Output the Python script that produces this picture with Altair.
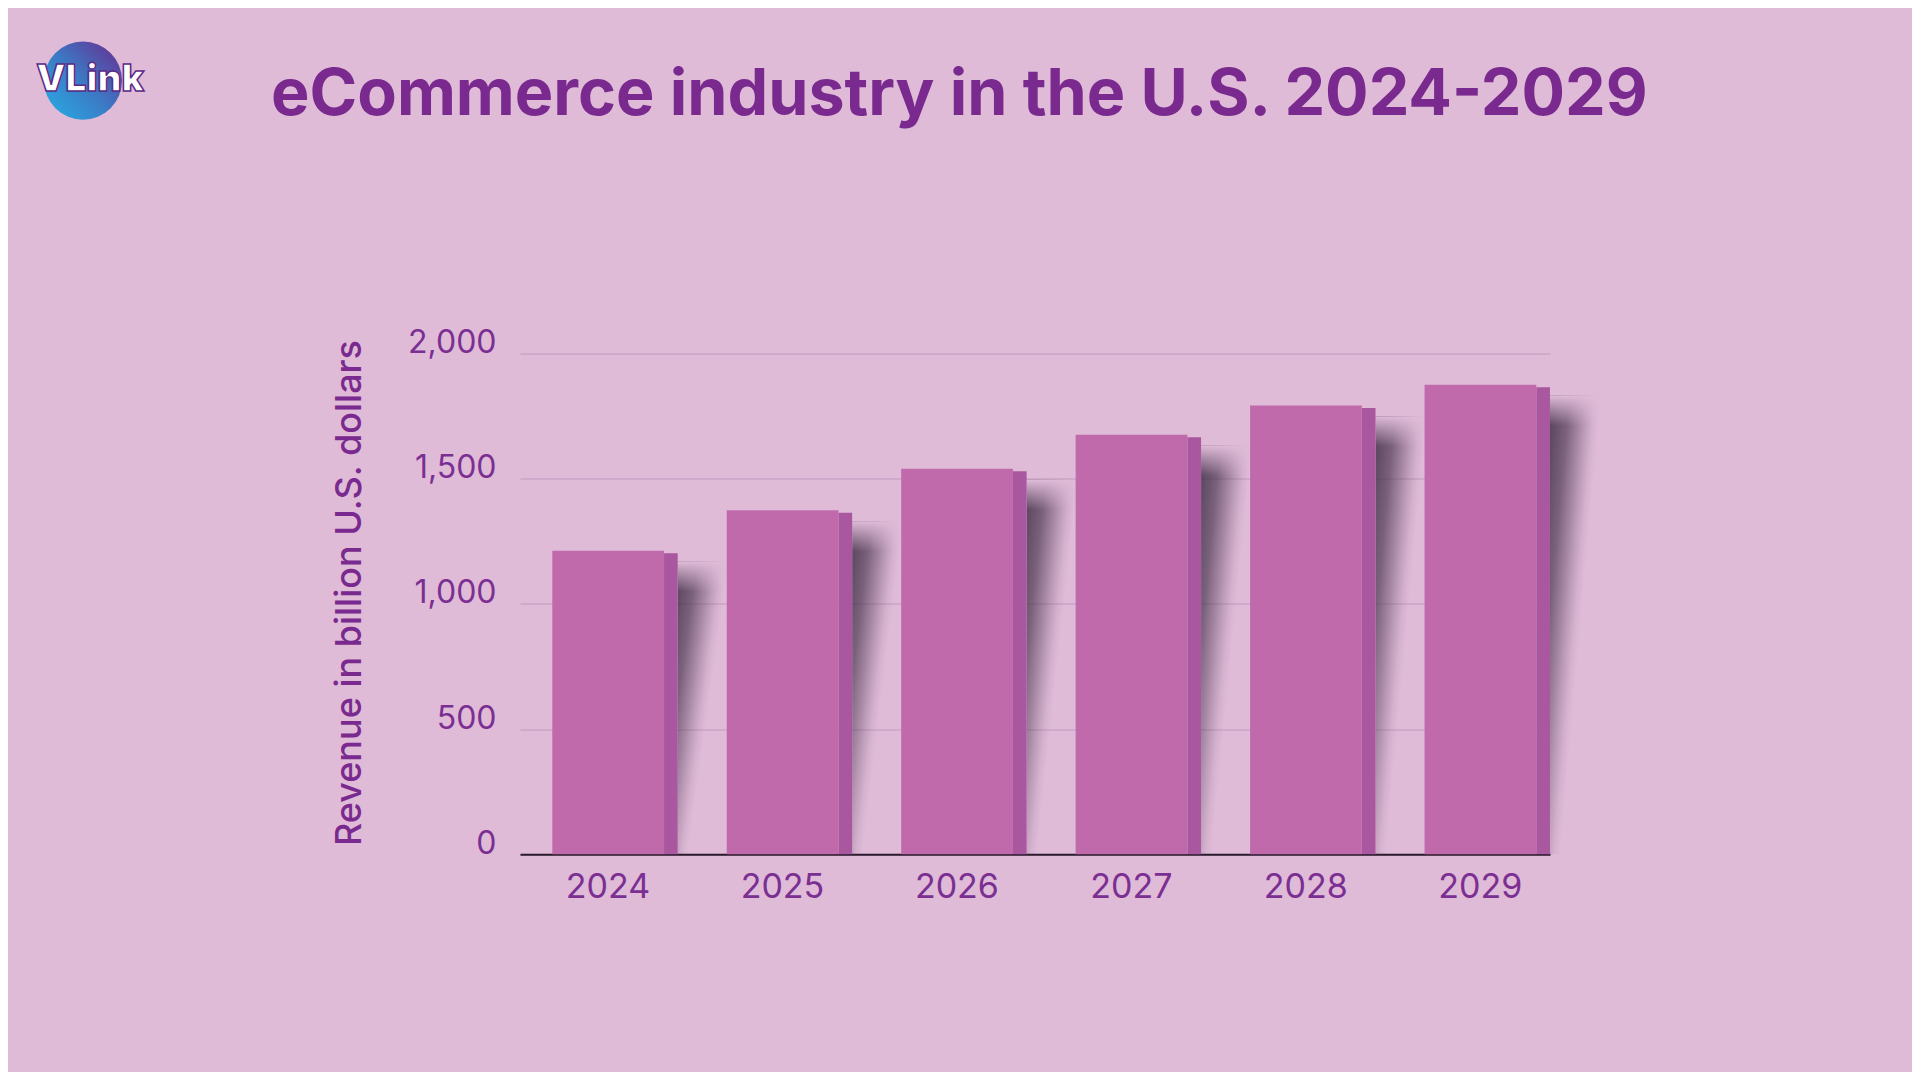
import altair as alt
import pandas as pd

# ---- data ----
years = ["2024", "2025", "2026", "2027", "2028", "2029"]
revenue = [1213, 1374, 1540, 1676, 1793, 1876]
y_ticks = [0, 500, 1000, 1500, 2000]
title_text = "eCommerce industry in the U.S. 2024-2029"
y_title = "Revenue in billion U.S. dollars"
logo_text = "VLink"

df = pd.DataFrame({"year": years, "revenue": revenue})

BG = "#dfbbd8"
FRONT = "#c06aab"
SIDE = "#a9579f"
LABEL = "#7b2f92"
TITLE = "#7a2a8f"
FONT = "Inter"

xscale = alt.Scale(paddingInner=0.281, paddingOuter=0.0926, align=1)
yscale = alt.Scale(domain=[0, 2000], nice=False)

xaxis = alt.Axis(
    title=None, labelAngle=0, labelFontSize=34, labelColor=LABEL, labelFont=FONT,
    labelPadding=16.5, labelOffset=-7, ticks=False, domainColor="#2a1a2c",
    domainWidth=2, grid=False,
)
yaxis = alt.Axis(
    title=y_title, values=y_ticks, format=",.0f", labelFontSize=32, labelColor=LABEL,
    labelFont=FONT, labelPadding=24, labelOffset=-11, ticks=False, domain=False,
    gridColor="#cba5c6", gridWidth=1.5,
    titleFont=FONT, titleFontSize=36, titleFontWeight=500, titleColor=TITLE,
    titleAngle=-90, titleX=-171, titleY=239, titleAlign="center", titleBaseline="middle",
)


def enc(y2=None):
    return dict(
        x=alt.X("year:N", scale=xscale, axis=xaxis, sort=years),
        y=alt.Y("revenue:Q", scale=yscale, axis=yaxis),
        y2=alt.datum(0) if y2 is None else alt.Y2(y2),
    )


# diagonal gradient so the soft shadow narrows towards the bottom
shadow_grad = alt.LinearGradient(
    gradient="linear", x1=0, y1=0, x2=0.709, y2=0.454,
    stops=[
        alt.GradientStop(offset=0.0, color="rgba(62,44,68,0.85)"),
        alt.GradientStop(offset=0.3, color="rgba(70,50,76,0.66)"),
        alt.GradientStop(offset=0.5, color="rgba(85,62,90,0.4)"),
        alt.GradientStop(offset=0.7, color="rgba(110,85,112,0.1)"),
        alt.GradientStop(offset=0.8, color="rgba(120,90,120,0)"),
        alt.GradientStop(offset=1.0, color="rgba(120,90,120,0)"),
    ],
)

shadow = alt.Chart(df).mark_bar(
    width=64, xOffset=94.7, yOffset=11, color=shadow_grad
).encode(**enc())

# soft top edge of the shadow
fade_grad = alt.LinearGradient(
    gradient="linear", x1=0, y1=0, x2=0, y2=1,
    stops=[
        alt.GradientStop(offset=0.0, color="rgba(223,187,216,1)"),
        alt.GradientStop(offset=1.0, color="rgba(223,187,216,0)"),
    ],
)
shadow_fade = alt.Chart(df).transform_calculate(
    fade_end="datum.revenue - 120"
).mark_bar(
    width=66, xOffset=94.7, yOffset=11, y2Offset=11, color=fade_grad
).encode(**enc("fade_end:Q"))

side = alt.Chart(df).mark_bar(
    width=alt.RelativeBandSize(0.109), xOffset=55.85, yOffset=2.5, color=SIDE
).encode(**enc())

front = alt.Chart(df).mark_bar(
    width=alt.RelativeBandSize(0.891), xOffset=-6.85, color=FRONT
).encode(**enc())

title_df = pd.DataFrame({"t": [title_text]})
title = alt.Chart(title_df).mark_text(
    align="left", baseline="alphabetic", font=FONT, fontSize=64.6, fontWeight="bold",
    color=TITLE,
).encode(text="t:N", x=alt.value(-249), y=alt.value(-238.6))

logo_df = pd.DataFrame({"t": [logo_text]})
globe_grad = alt.LinearGradient(
    gradient="linear", x1=0, y1=1, x2=1, y2=0,
    stops=[
        alt.GradientStop(offset=0.0, color="#27b0e6"),
        alt.GradientStop(offset=0.5, color="#3c78c4"),
        alt.GradientStop(offset=1.0, color="#6a2a8e"),
    ],
)
globe = alt.Chart(logo_df).mark_point(
    shape="circle", filled=True, size=6100, color=globe_grad, opacity=1
).encode(x=alt.value(-437), y=alt.value(-273))
logo = alt.Chart(logo_df).mark_text(
    align="center", baseline="middle", font=FONT, fontSize=37, fontWeight=900,
    color="white", stroke="#5a2a86", strokeWidth=1.5,
).encode(text="t:N", x=alt.value(-430), y=alt.value(-273.6))

chart = alt.layer(shadow, shadow_fade, side, front, title, globe, logo).properties(
    width=1030, height=500.7,
    autosize=alt.AutoSizeParams(type="none"),
    padding={"left": 512, "top": 345.6, "right": 362, "bottom": 217.7},
    background=BG,
).configure_view(stroke=None)

chart.save("out.html", embed_options={"renderer": "svg", "actions": False})
